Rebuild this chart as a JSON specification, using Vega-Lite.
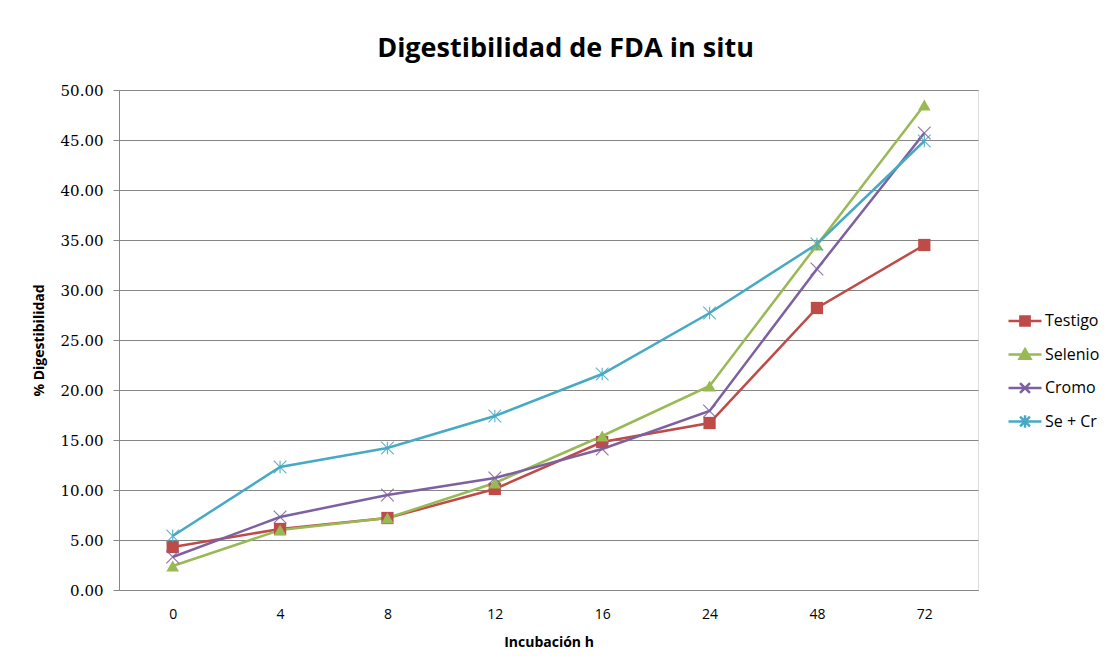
{
  "$schema": "https://vega.github.io/schema/vega-lite/v6.json",
  "width": 859,
  "height": 500,
  "autosize": {"type": "none"},
  "padding": {"left": 119, "top": 90, "right": 132, "bottom": 81},
  "background": "white",
  "title": {
    "text": "Digestibilidad de FDA in situ",
    "font": "Open Sans",
    "fontSize": 27,
    "fontWeight": "bold",
    "color": "#000000",
    "anchor": "middle",
    "dx": 17,
    "offset": 20
  },
  "data": {
    "values": [
      {"h": 0, "serie": "Testigo", "v": 4.3},
      {"h": 4, "serie": "Testigo", "v": 6.1},
      {"h": 8, "serie": "Testigo", "v": 7.2},
      {"h": 12, "serie": "Testigo", "v": 10.1},
      {"h": 16, "serie": "Testigo", "v": 14.8},
      {"h": 24, "serie": "Testigo", "v": 16.7},
      {"h": 48, "serie": "Testigo", "v": 28.2},
      {"h": 72, "serie": "Testigo", "v": 34.5},
      {"h": 0, "serie": "Selenio", "v": 2.4},
      {"h": 4, "serie": "Selenio", "v": 6.0},
      {"h": 8, "serie": "Selenio", "v": 7.2},
      {"h": 12, "serie": "Selenio", "v": 10.7},
      {"h": 16, "serie": "Selenio", "v": 15.4},
      {"h": 24, "serie": "Selenio", "v": 20.4},
      {"h": 48, "serie": "Selenio", "v": 34.5},
      {"h": 72, "serie": "Selenio", "v": 48.5},
      {"h": 0, "serie": "Cromo", "v": 3.3},
      {"h": 4, "serie": "Cromo", "v": 7.3},
      {"h": 8, "serie": "Cromo", "v": 9.5},
      {"h": 12, "serie": "Cromo", "v": 11.2},
      {"h": 16, "serie": "Cromo", "v": 14.1},
      {"h": 24, "serie": "Cromo", "v": 17.9},
      {"h": 48, "serie": "Cromo", "v": 32.1},
      {"h": 72, "serie": "Cromo", "v": 45.7},
      {"h": 0, "serie": "Se + Cr", "v": 5.4},
      {"h": 4, "serie": "Se + Cr", "v": 12.3},
      {"h": 8, "serie": "Se + Cr", "v": 14.2},
      {"h": 12, "serie": "Se + Cr", "v": 17.4},
      {"h": 16, "serie": "Se + Cr", "v": 21.6},
      {"h": 24, "serie": "Se + Cr", "v": 27.7},
      {"h": 48, "serie": "Se + Cr", "v": 34.6},
      {"h": 72, "serie": "Se + Cr", "v": 44.9}
    ]
  },
  "encoding": {
    "x": {
      "field": "h",
      "type": "ordinal",
      "sort": [0, 4, 8, 12, 16, 24, 48, 72],
      "scale": {"type": "point", "padding": 0.5},
      "axis": {
        "title": "Incubación h",
        "titleFont": "Open Sans",
        "titleFontSize": 14,
        "titleFontWeight": "bold",
        "titleColor": "#000000",
        "titlePadding": 14,
        "labelFont": "Open Sans",
        "labelFontSize": 14,
        "labelColor": "#000000",
        "labelAngle": 0,
        "labelPadding": 17,
        "ticks": false,
        "domain": true,
        "domainColor": "#868686",
        "grid": false
      }
    },
    "y": {
      "field": "v",
      "type": "quantitative",
      "scale": {"domain": [0, 50], "nice": false},
      "axis": {
        "title": "% Digestibilidad",
        "titleFont": "Open Sans",
        "titleFontSize": 14,
        "titleFontWeight": "bold",
        "titleColor": "#000000",
        "titlePadding": 14,
        "values": [0, 5, 10, 15, 20, 25, 30, 35, 40, 45, 50],
        "format": ".2f",
        "labelFont": "DejaVu Serif",
        "labelFontSize": 15,
        "labelColor": "#000000",
        "labelPadding": 10,
        "tickSize": 6,
        "tickColor": "#868686",
        "domainColor": "#868686",
        "gridColor": "#868686",
        "gridWidth": 1
      }
    },
    "color": {
      "field": "serie",
      "type": "nominal",
      "scale": {
        "domain": ["Testigo", "Selenio", "Cromo", "Se + Cr"],
        "range": ["#BE4B48", "#98B954", "#7D60A0", "#46AAC5"]
      },
      "legend": {
        "title": null,
        "orient": "none",
        "legendX": 888,
        "legendY": 213,
        "symbolSize": 1089,
        "symbolStrokeWidth": 2.5,
        "labelFont": "Open Sans",
        "labelFontSize": 16,
        "labelColor": "#000000",
        "rowPadding": 5.5,
        "labelOffset": 2,
        "encode": {
          "symbols": {
            "update": {
              "shape": {"signal": "datum.value === 'Testigo' ? 'M-1,0L1,0M-0.28,-0.28L0.28,-0.28L0.28,0.28L-0.28,0.28Z' : datum.value === 'Selenio' ? 'M-1,0L1,0M0,-0.32L0.33,0.26L-0.33,0.26Z' : datum.value === 'Cromo' ? 'M-1,0L1,0M-0.3,-0.3L0.3,0.3M-0.3,0.3L0.3,-0.3' : 'M-1,0L1,0M-0.3,-0.3L0.3,0.3M-0.3,0.3L0.3,-0.3M0,-0.38L0,0.38'"},
              "fill": {"scale": "color", "field": "value"},
              "stroke": {"scale": "color", "field": "value"},
              "strokeWidth": {"value": 2.5},
              "opacity": {"value": 1},
              "fillOpacity": {"value": 1},
              "strokeOpacity": {"value": 1}
            }
          }
        }
      }
    }
  },
  "layer": [
    {
      "mark": {"type": "line", "strokeWidth": 2.5}
    },
    {
      "transform": [{"filter": "datum.serie === 'Testigo'"}],
      "mark": {"type": "point", "shape": "square", "filled": true, "opacity": 1, "size": 150}
    },
    {
      "transform": [{"filter": "datum.serie === 'Selenio'"}],
      "mark": {"type": "point", "shape": "triangle-up", "filled": true, "opacity": 1, "size": 160}
    },
    {
      "transform": [{"filter": "datum.serie === 'Cromo'"}],
      "mark": {"type": "point", "shape": "M-1,-1L1,1M-1,1L1,-1", "filled": false, "opacity": 0.85, "size": 160, "strokeWidth": 1.2}
    },
    {
      "transform": [{"filter": "datum.serie === 'Se + Cr'"}],
      "mark": {"type": "point", "shape": "M-1,-1L1,1M-1,1L1,-1M0,-1L0,1", "filled": false, "opacity": 0.85, "size": 160, "strokeWidth": 1.2}
    }
  ]
}
